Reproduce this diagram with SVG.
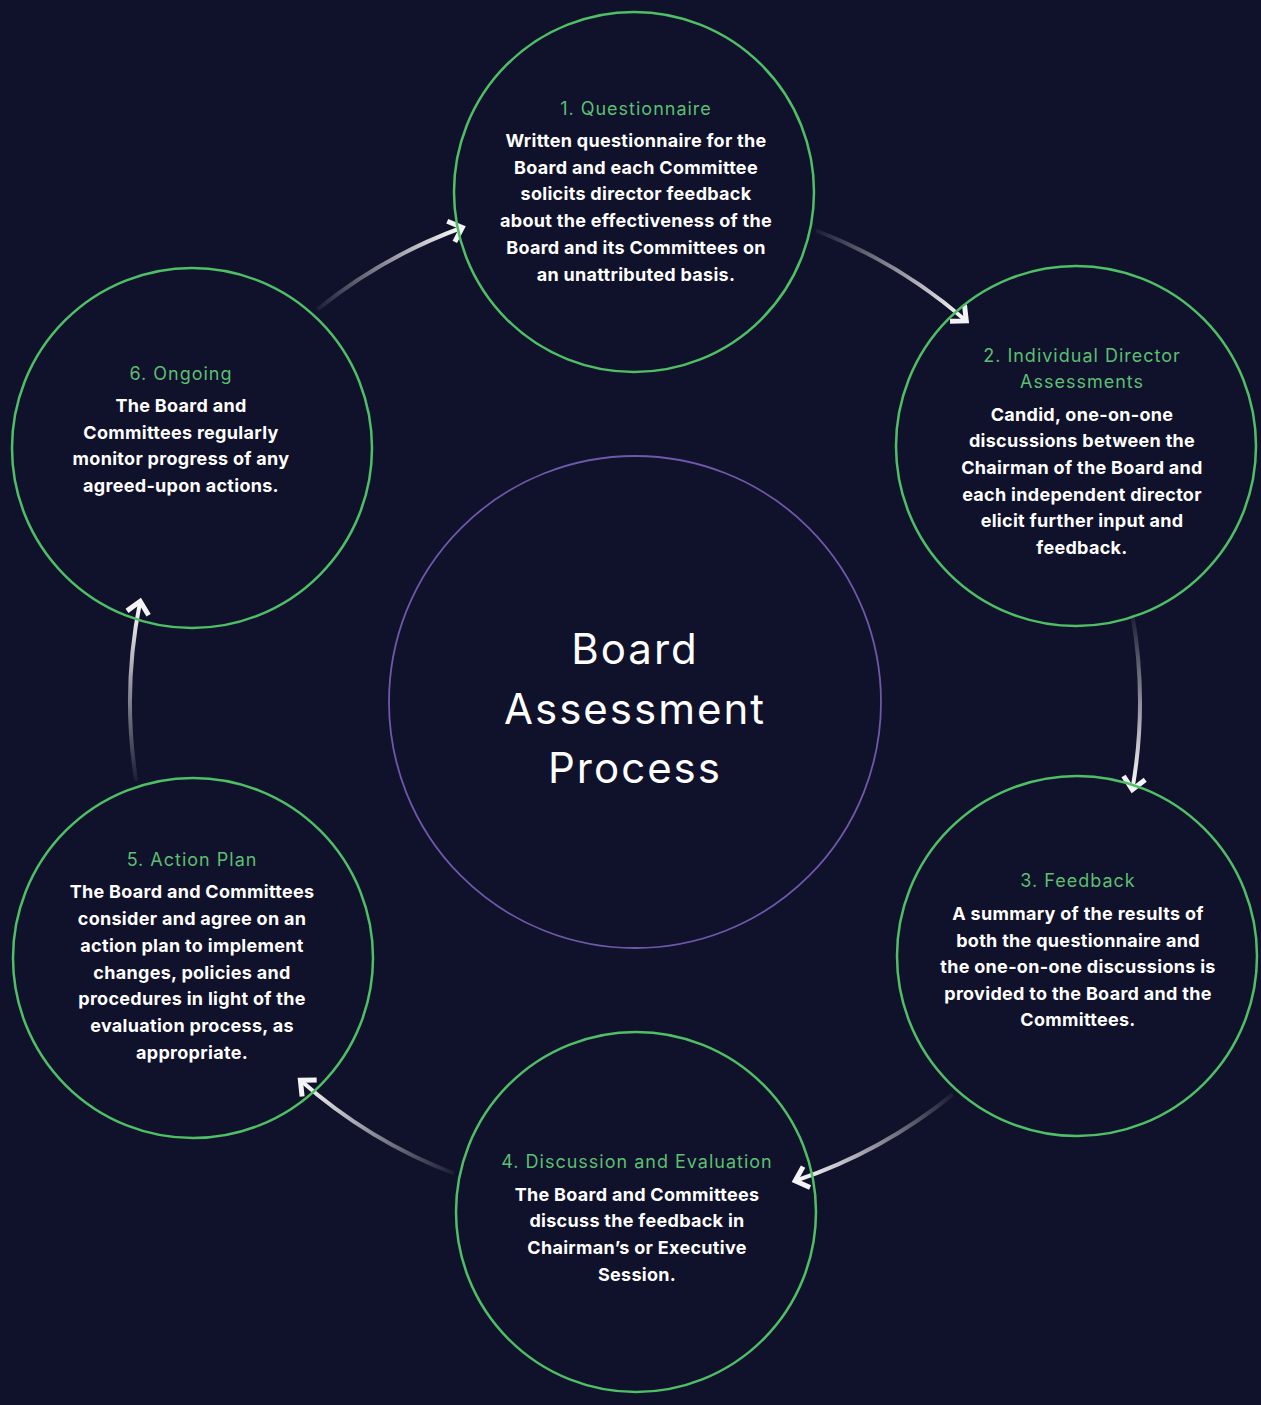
<svg xmlns="http://www.w3.org/2000/svg" width="1261" height="1405" viewBox="0 0 1261 1405">
<defs>
<style>
.node{fill:none;stroke:#4fbf66;stroke-width:2.5}
.ttl{font-family:Inter,"Noto Sans",sans-serif;font-size:18px;font-weight:400;fill:#5cbf72;letter-spacing:1px;text-anchor:middle}
.bd{font-family:Inter,"Noto Sans",sans-serif;font-size:18px;font-weight:700;fill:#ffffff;letter-spacing:0.3px;text-anchor:middle}
.ctr{font-family:Inter,"Noto Sans",sans-serif;font-size:42px;font-weight:400;fill:#ffffff;letter-spacing:2px;text-anchor:middle}
.arc{fill:none;stroke-width:4}
</style>
<marker id="ah" markerUnits="userSpaceOnUse" markerWidth="30" markerHeight="30" refX="0" refY="0" orient="auto" overflow="visible">
<path d="M-12,-11 L0,0 L-12,11" fill="none" stroke="#f4f4f6" stroke-width="5"/>
</marker>
<linearGradient id="g1" gradientUnits="userSpaceOnUse" x1="317" y1="310" x2="462" y2="228"><stop offset="0" stop-color="#fff" stop-opacity="0.05"/><stop offset="1" stop-color="#fff" stop-opacity="1"/></linearGradient>
<linearGradient id="g2" gradientUnits="userSpaceOnUse" x1="816" y1="230" x2="966" y2="321"><stop offset="0" stop-color="#fff" stop-opacity="0.05"/><stop offset="1" stop-color="#fff" stop-opacity="1"/></linearGradient>
<linearGradient id="g3" gradientUnits="userSpaceOnUse" x1="1132" y1="614" x2="1132" y2="790"><stop offset="0" stop-color="#fff" stop-opacity="0.05"/><stop offset="1" stop-color="#fff" stop-opacity="1"/></linearGradient>
<linearGradient id="g4" gradientUnits="userSpaceOnUse" x1="953" y1="1094" x2="795" y2="1181"><stop offset="0" stop-color="#fff" stop-opacity="0.05"/><stop offset="1" stop-color="#fff" stop-opacity="1"/></linearGradient>
<linearGradient id="g5" gradientUnits="userSpaceOnUse" x1="454" y1="1173" x2="300" y2="1080"><stop offset="0" stop-color="#fff" stop-opacity="0.05"/><stop offset="1" stop-color="#fff" stop-opacity="1"/></linearGradient>
<linearGradient id="g6" gradientUnits="userSpaceOnUse" x1="136" y1="781" x2="140" y2="601"><stop offset="0" stop-color="#fff" stop-opacity="0.05"/><stop offset="1" stop-color="#fff" stop-opacity="1"/></linearGradient>
</defs>
<rect width="1261" height="1405" fill="#10112a"/>

<g id="connectors">
<path class="arc" stroke="url(#g1)" marker-end="url(#ah)" d="M317.2,309.6 A505,505 0 0 1 462.3,227.5"/>
<path class="arc" stroke="url(#g2)" marker-end="url(#ah)" d="M816.0,230.5 A505,505 0 0 1 966.3,320.9"/>
<path class="arc" stroke="url(#g3)" marker-end="url(#ah)" d="M1132.3,614.3 A505,505 0 0 1 1132.3,789.7"/>
<path class="arc" stroke="url(#g4)" marker-end="url(#ah)" d="M952.8,1094.4 A505,505 0 0 1 795.2,1180.9"/>
<path class="arc" stroke="url(#g5)" marker-end="url(#ah)" d="M454.0,1173.5 A505,505 0 0 1 300.4,1080.2"/>
<path class="arc" stroke="url(#g6)" marker-end="url(#ah)" d="M136.2,781.0 A505,505 0 0 1 140.2,601.3"/>
</g>

<g id="center">
<circle cx="635" cy="702" r="246" fill="none" stroke="#6f58aa" stroke-width="1.8"/>
<text class="ctr" x="635" y="664">Board</text>
<text class="ctr" x="635" y="724">Assessment</text>
<text class="ctr" x="635" y="783">Process</text>
</g>

<g id="node1">
<circle class="node" cx="634" cy="192" r="180"/>
<text class="ttl" x="636" y="115">1. Questionnaire</text>
<text class="bd" x="636" y="147">Written questionnaire for the</text>
<text class="bd" x="636" y="174">Board and each Committee</text>
<text class="bd" x="636" y="200">solicits director feedback</text>
<text class="bd" x="636" y="227">about the effectiveness of the</text>
<text class="bd" x="636" y="254">Board and its Committees on</text>
<text class="bd" x="636" y="281">an unattributed basis.</text>
</g>

<g id="node2">
<circle class="node" cx="1076" cy="446" r="180"/>
<text class="ttl" x="1082" y="362">2. Individual Director</text>
<text class="ttl" x="1082" y="388">Assessments</text>
<text class="bd" x="1082" y="421">Candid, one-on-one</text>
<text class="bd" x="1082" y="447">discussions between the</text>
<text class="bd" x="1082" y="474">Chairman of the Board and</text>
<text class="bd" x="1082" y="501">each independent director</text>
<text class="bd" x="1082" y="527">elicit further input and</text>
<text class="bd" x="1082" y="554">feedback.</text>
</g>

<g id="node3">
<circle class="node" cx="1077" cy="956" r="180"/>
<text class="ttl" x="1078" y="887">3. Feedback</text>
<text class="bd" x="1078" y="920">A summary of the results of</text>
<text class="bd" x="1078" y="947">both the questionnaire and</text>
<text class="bd" x="1078" y="973">the one-on-one discussions is</text>
<text class="bd" x="1078" y="1000">provided to the Board and the</text>
<text class="bd" x="1078" y="1026">Committees.</text>
</g>

<g id="node4">
<circle class="node" cx="636" cy="1212" r="180"/>
<text class="ttl" x="637" y="1168">4. Discussion and Evaluation</text>
<text class="bd" x="637" y="1201">The Board and Committees</text>
<text class="bd" x="637" y="1227">discuss the feedback in</text>
<text class="bd" x="637" y="1254">Chairman’s or Executive</text>
<text class="bd" x="637" y="1281">Session.</text>
</g>

<g id="node5">
<circle class="node" cx="193" cy="958" r="180"/>
<text class="ttl" x="192" y="866">5. Action Plan</text>
<text class="bd" x="192" y="898">The Board and Committees</text>
<text class="bd" x="192" y="925">consider and agree on an</text>
<text class="bd" x="192" y="952">action plan to implement</text>
<text class="bd" x="192" y="979">changes, policies and</text>
<text class="bd" x="192" y="1005">procedures in light of the</text>
<text class="bd" x="192" y="1032">evaluation process, as</text>
<text class="bd" x="192" y="1059">appropriate.</text>
</g>

<g id="node6">
<circle class="node" cx="192" cy="448" r="180"/>
<text class="ttl" x="181" y="380">6. Ongoing</text>
<text class="bd" x="181" y="412">The Board and</text>
<text class="bd" x="181" y="439">Committees regularly</text>
<text class="bd" x="181" y="465">monitor progress of any</text>
<text class="bd" x="181" y="492">agreed-upon actions.</text>
</g>
</svg>
